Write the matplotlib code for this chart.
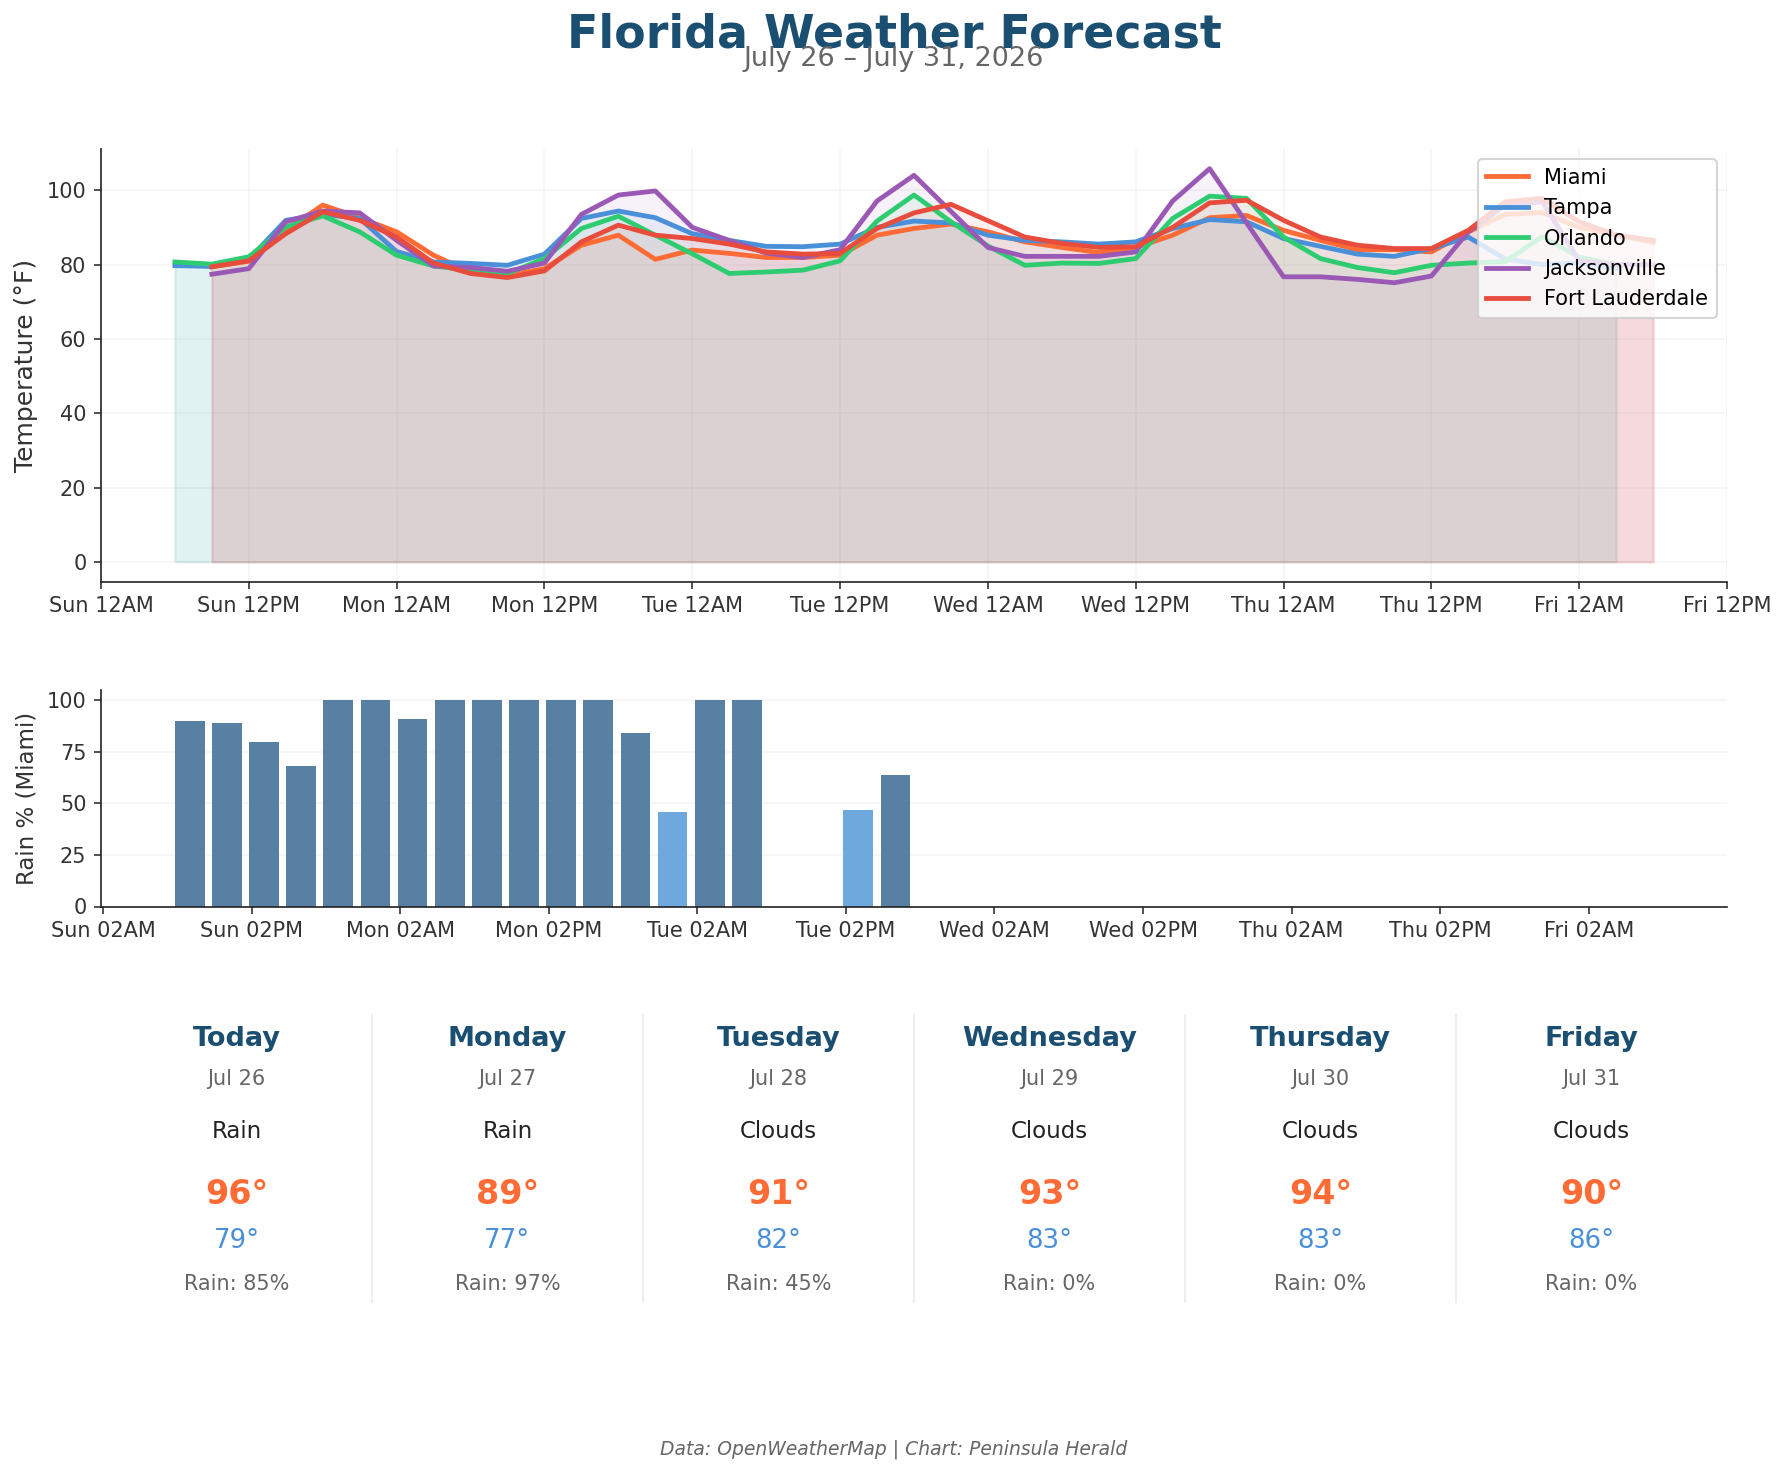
import matplotlib.pyplot as plt
import matplotlib.dates as mdates
from matplotlib.lines import Line2D
from datetime import datetime, timedelta

# forecast data (3-hourly)
cities = ['Miami', 'Tampa', 'Orlando', 'Jacksonville', 'Fort Lauderdale']
city_colors = ['#ff6b35', '#4a90d9', '#2ecc71', '#9b59b6', '#e74c3c']
city_start = [datetime(2026, 7, 26, 9), datetime(2026, 7, 26, 6), datetime(2026, 7, 26, 6),
              datetime(2026, 7, 26, 9), datetime(2026, 7, 26, 9)]

miami = [79.4, 80.9, 89.2, 96.0, 92.6, 88.8, 82.5, 78.0, 77.1, 78.9,
         85.2, 87.9, 81.4, 83.9, 83.0, 81.9, 81.9, 82.5, 87.9, 89.7,
         90.9, 88.8, 86.1, 84.6, 83.2, 84.6, 87.9, 92.6, 93.2, 89.2,
         86.5, 84.0, 84.0, 83.4, 88.8, 93.5, 94.0, 90.0, 88.0, 86.0]
tampa = [79.7, 79.5, 81.4, 91.9, 93.5, 92.4, 83.5, 80.7, 80.3, 79.8,
         82.8, 92.4, 94.4, 92.6, 88.3, 86.5, 84.9, 84.8, 85.5, 90.0,
         91.7, 91.2, 87.9, 86.5, 86.1, 85.5, 86.1, 89.7, 92.1, 91.5,
         87.0, 84.9, 82.8, 82.2, 84.3, 87.4, 81.5, 80.0, 80.5, 79.0]
orlando = [80.7, 80.1, 82.1, 90.1, 93.1, 88.8, 82.5, 79.6, 78.5, 77.6,
           81.6, 89.7, 93.0, 87.9, 82.9, 77.6, 78.0, 78.5, 81.0, 91.7,
           98.7, 91.5, 85.0, 79.8, 80.4, 80.3, 81.6, 92.4, 98.4, 97.8,
           87.4, 81.6, 79.2, 77.8, 79.8, 80.4, 80.8, 87.5, 82.0, 80.0]
jacksonville = [77.4, 78.9, 91.5, 94.4, 93.9, 86.5, 79.6, 79.2, 78.2, 80.4,
                93.5, 98.7, 99.8, 90.0, 86.5, 83.1, 81.9, 84.0, 97.1, 104.0,
                94.3, 84.6, 82.2, 82.2, 82.2, 83.4, 97.1, 105.8, 91.2, 76.7,
                76.7, 76.0, 75.1, 76.9, 88.8, 96.0, 96.9, 81.0, 80.0, 80.0]
fort_lauderdale = [79.4, 81.0, 88.3, 94.2, 91.9, 87.4, 80.4, 77.6, 76.5, 78.3,
                   86.1, 90.6, 87.9, 87.0, 85.5, 83.4, 82.8, 83.0, 89.7, 93.9,
                   96.2, 91.8, 87.4, 85.7, 84.6, 84.8, 90.0, 96.6, 97.3, 91.9,
                   87.4, 85.2, 84.3, 84.3, 89.2, 96.9, 97.8, 91.5, 88.0, 86.5]
temps = [miami, tampa, orlando, jacksonville, fort_lauderdale]

# Miami rain probability (%)
miami_pop = [90, 89, 80, 68, 100, 100, 91, 100, 100, 100,
             100, 100, 84, 46, 100, 100, 0, 0, 47, 64,
             0, 0, 0, 0, 0, 0, 0, 0, 0, 0,
             0, 0, 0, 0, 0, 0, 0, 0, 0, 0]

# daily cards
card_days = ['Today', 'Monday', 'Tuesday', 'Wednesday', 'Thursday', 'Friday']
card_dates = ['Jul 26', 'Jul 27', 'Jul 28', 'Jul 29', 'Jul 30', 'Jul 31']
card_cond = ['Rain', 'Rain', 'Clouds', 'Clouds', 'Clouds', 'Clouds']
card_high = [96, 89, 91, 93, 94, 90]
card_low = [79, 77, 82, 83, 83, 86]
card_rain = [85, 97, 45, 0, 0, 0]

W, H = 1788, 1474
fig = plt.figure(figsize=(W / 150, H / 150), dpi=150)

def fy(px):
    return 1 - px / H

# temperature chart
ax1 = fig.add_axes([101 / W, fy(581.5), 1626 / W, (581.5 - 149) / H])
for name, col, t0, vals in zip(cities, city_colors, city_start, temps):
    times = [t0 + timedelta(hours=3 * i) for i in range(len(vals))]
    ax1.fill_between(times, vals, alpha=0.08, color=col)
    ax1.plot(times, vals, color=col, lw=2.3, label=name)
ax1.set_ylabel('Temperature (°F)', fontsize=12, color='#333333')
ax1.xaxis.set_major_locator(mdates.HourLocator(byhour=[0, 12]))
ax1.xaxis.set_major_formatter(mdates.DateFormatter('%a %I%p'))
ax1.grid(True, color='#e6e6e6', alpha=0.4, lw=0.8)
ax1.legend(loc='upper right', fontsize=10, framealpha=0.8)

# rain bars
ax2 = fig.add_axes([101 / W, fy(906.5), 1626 / W, (906.5 - 690) / H])
rain_times = [city_start[0] + timedelta(hours=3 * i) for i in range(len(miami_pop))]
bar_cols = ['#6fa8dc' if p < 50 else '#5780a3' for p in miami_pop]
ax2.bar(rain_times, miami_pop, width=0.1, color=bar_cols)
ax2.set_ylabel('Rain % (Miami)', fontsize=11, color='#333333')
ax2.set_yticks([0, 25, 50, 75, 100])
ax2.xaxis.set_major_locator(mdates.HourLocator(byhour=[2, 14]))
ax2.xaxis.set_major_formatter(mdates.DateFormatter('%a %I%p'))
ax2.grid(True, axis='y', color='#e6e6e6', alpha=0.4, lw=0.8)

for ax in (ax1, ax2):
    ax.spines['top'].set_visible(False)
    ax.spines['right'].set_visible(False)
    ax.spines['left'].set_color('#222222')
    ax.spines['bottom'].set_color('#222222')
    ax.tick_params(labelsize=10, colors='#333333')
    ax.set_axisbelow(True)

# titles
fig.text(0.5, fy(35), 'Florida Weather Forecast', ha='center', va='center',
         fontsize=22, fontweight='bold', color='#1b4f72')
fig.text(0.5, fy(59), 'July 26 – July 31, 2026', ha='center', va='center',
         fontsize=13, color='#666666')

# day cards
col_w = 1626 / 6
for i in range(6):
    cx = (101 + col_w * (i + 0.5)) / W
    fig.text(cx, fy(1039), card_days[i], ha='center', va='center', fontsize=13,
             fontweight='bold', color='#1b4f72')
    fig.text(cx, fy(1079), card_dates[i], ha='center', va='center', fontsize=10, color='#666666')
    fig.text(cx, fy(1132), card_cond[i], ha='center', va='center', fontsize=11, color='#222222')
    fig.text(cx, fy(1194), f'{card_high[i]}°', ha='center', va='center', fontsize=16,
             fontweight='bold', color='#ff6b35')
    fig.text(cx, fy(1241), f'{card_low[i]}°', ha='center', va='center', fontsize=12.5, color='#4a90d9')
    fig.text(cx, fy(1284), f'Rain: {card_rain[i]}%', ha='center', va='center', fontsize=10,
             color='#666666')
    if i > 0:
        x = (101 + col_w * i) / W
        fig.add_artist(Line2D([x, x], [fy(1302), fy(1015)], color='#eeeeee', lw=1))

fig.text(0.5, fy(1449), 'Data: OpenWeatherMap | Chart: Peninsula Herald', ha='center', va='center',
         fontsize=9, style='italic', color='#666666')

fig.savefig('out.png', dpi=150)
